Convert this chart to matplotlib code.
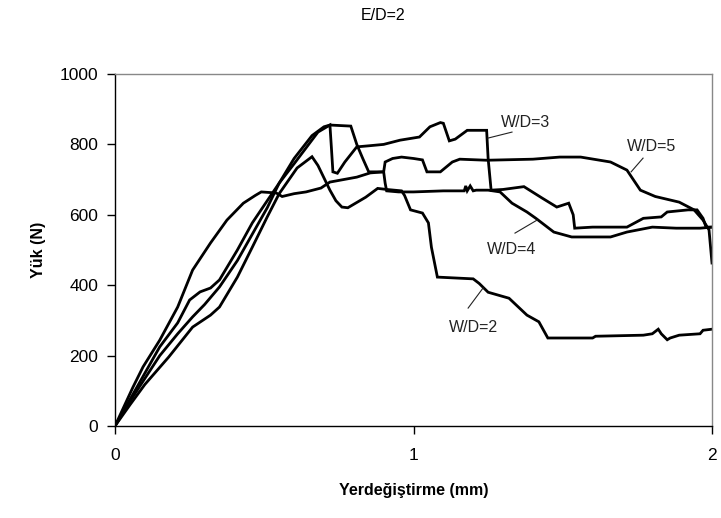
import matplotlib
matplotlib.use("Agg")
import matplotlib.pyplot as plt

# Load-displacement curves, one per W/D ratio (displacement in mm, load in N)
wd2_x = [0, 0.05, 0.10, 0.18, 0.26, 0.32, 0.35, 0.41, 0.46, 0.51, 0.55, 0.61, 0.66,
         0.68, 0.70, 0.72, 0.74, 0.76, 0.78, 0.80, 0.84, 0.88, 0.91, 0.96, 0.97,
         0.99, 1.03, 1.05, 1.06, 1.08, 1.20, 1.22, 1.25, 1.32, 1.38, 1.42, 1.45,
         1.60, 1.61, 1.77, 1.80, 1.82, 1.83, 1.85, 1.86, 1.89, 1.96, 1.97, 2.00]
wd2_y = [0, 60, 118, 196, 281, 315, 338, 423, 508, 594, 660, 733, 765,
         740, 705, 670, 640, 622, 620, 630, 650, 675, 672, 668, 655,
         614, 605, 577, 508, 423, 418, 405, 380, 363, 315, 296, 250,
         250, 255, 258, 262, 275, 262, 245, 250, 258, 262, 272, 275]

wd3_x = [0, 0.05, 0.10, 0.15, 0.21, 0.25, 0.285, 0.32, 0.35, 0.41, 0.46, 0.51, 0.55,
         0.60, 0.64, 0.68, 0.72, 0.725, 0.73, 0.745, 0.77, 0.81, 0.85, 0.90,
         0.955, 1.02, 1.055, 1.09, 1.10, 1.12, 1.14, 1.18, 1.245, 1.25, 1.26,
         1.30, 1.37, 1.43, 1.48, 1.52, 1.535, 1.54, 1.60, 1.715, 1.77, 1.83,
         1.85, 1.92, 1.95, 1.97, 1.98, 2.00]
wd3_y = [0, 75, 150, 225, 293, 358, 381, 392, 415, 500, 577, 640, 690,
         745, 790, 835, 855, 790, 722, 718, 750, 793, 796, 800,
         812, 821, 850, 862, 860, 810, 815, 840, 840, 760, 670,
         672, 680, 648, 622, 633, 600, 562, 565, 565, 590, 594,
         608, 614, 614, 590, 565, 565]

wd4_x = [0, 0.03, 0.06, 0.094, 0.15, 0.21, 0.26, 0.32, 0.375, 0.43, 0.47, 0.49,
         0.54, 0.56, 0.60, 0.64, 0.69, 0.72, 0.81, 0.855, 0.90, 0.905, 0.91,
         0.95, 1.00, 1.10, 1.17, 1.175, 1.18, 1.19, 1.20, 1.21, 1.25, 1.29,
         1.33, 1.38, 1.41, 1.47, 1.53, 1.66, 1.715, 1.80, 1.88, 1.96, 2.00]
wd4_y = [0, 55, 110, 168, 244, 338, 443, 520, 585, 633, 655, 665,
         662, 652, 660, 665, 676, 693, 707, 719, 722, 690, 668,
         665, 665, 668, 668, 682, 668, 682, 668, 670, 670, 665,
         633, 608, 590, 551, 537, 537, 551, 565, 562, 562, 565]

wd5_x = [0, 0.05, 0.10, 0.15, 0.21, 0.26, 0.30, 0.35, 0.41, 0.46, 0.51, 0.55,
         0.60, 0.66, 0.70, 0.72, 0.79, 0.81, 0.83, 0.85, 0.90, 0.905, 0.93,
         0.96, 1.00, 1.03, 1.045, 1.09, 1.13, 1.155, 1.245, 1.40, 1.49, 1.56,
         1.66, 1.715, 1.76, 1.81, 1.89, 1.94, 1.97, 1.99, 2.00]
wd5_y = [0, 70, 135, 200, 262, 310, 345, 395, 470, 545, 620, 690,
         760, 825, 850, 855, 852, 800, 760, 722, 722, 750, 760,
         764, 760, 756, 722, 722, 750, 758, 755, 758, 764, 764,
         750, 727, 670, 652, 636, 614, 585, 557, 463]

series = [(wd2_x, wd2_y), (wd3_x, wd3_y), (wd4_x, wd4_y), (wd5_x, wd5_y)]

# Curve labels: text, text position, leader line start and end
labels = ["W/D=2", "W/D=3", "W/D=4", "W/D=5"]
label_pos = [(1.20, 281), (1.377, 861), (1.33, 500), (1.796, 793)]
leader_from = [(1.183, 335), (1.25, 818), (1.34, 548), (1.729, 722)]
leader_to = [(1.233, 392), (1.33, 835), (1.414, 585), (1.769, 761)]

title = "E/D=2"
x_label = "Yerdeğiştirme (mm)"
y_label = "Yük (N)"
x_ticks = [0, 1, 2]
y_ticks = [0, 200, 400, 600, 800, 1000]

plt.rcParams["font.family"] = ["Liberation Sans", "DejaVu Sans"]

fig = plt.figure(figsize=(7.21, 5.18), dpi=100)
ax = fig.add_axes([115 / 721, 92 / 518, 597 / 721, 352 / 518])

for xs, ys in series:
    ax.plot(xs, ys, color="black", lw=2.0, solid_joinstyle="miter")

for txt, pos, p0, p1 in zip(labels, label_pos, leader_from, leader_to):
    ax.plot([p0[0], p1[0]], [p0[1], p1[1]], color="#222222", lw=0.8)
    ax.text(pos[0], pos[1], txt, ha="center", va="center", fontsize=11.5,
            color="#222222")

ax.set_xlim(0, 2)
ax.set_ylim(0, 1000)
ax.set_xticks(x_ticks)
ax.set_yticks(y_ticks)
ax.set_xticklabels([str(v) for v in x_ticks])
ax.set_yticklabels([str(v) for v in y_ticks])
ax.tick_params(direction="out", length=6, width=1, labelsize=12.5, pad=6,
               colors="black")
ax.tick_params(axis="x", pad=10)

for side in ("left", "bottom"):
    ax.spines[side].set_color("black")
    ax.spines[side].set_linewidth(1.0)
for side in ("top", "right"):
    ax.spines[side].set_color("#888888")
    ax.spines[side].set_linewidth(1.0)

ax.set_xlabel(x_label, fontsize=11.5, fontweight="bold", labelpad=14)
ax.set_ylabel(y_label, fontsize=11.5, fontweight="bold", labelpad=10)
fig.text(383 / 721, 1 - 15 / 518, title, ha="center", va="center",
         fontsize=11.5)

fig.savefig("out.png", dpi=100, facecolor="white")
